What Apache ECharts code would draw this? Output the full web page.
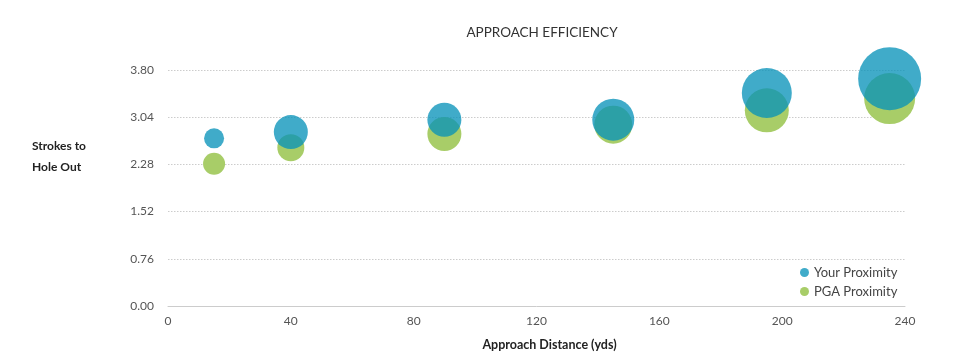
<!DOCTYPE html>
<html>
<head>
<meta charset="utf-8">
<script src="https://cdn.jsdelivr.net/npm/echarts@6/dist/echarts.min.js"></script>
<style>html,body{margin:0;padding:0;background:#fff}#c{width:964px;height:361px}</style>
</head>
<body>
<div id="c"></div>
<script>
// Data
var distances = [15, 40, 90, 145, 195, 235];
var yourStrokes = [2.70, 2.80, 3.00, 3.00, 3.43, 3.66];
var pgaStrokes = [2.29, 2.55, 2.77, 2.92, 3.15, 3.34];
// Bubble size value (proximity)
var yourProximity = [20, 34, 34, 42, 50, 63];
var pgaProximity = [22, 27, 34, 38, 44, 51];
var yTicks = [0, 0.76, 1.52, 2.28, 3.04, 3.80];

function pts(xs, ys, ss) {
  return xs.map(function (x, i) { return [x, ys[i], ss[i]]; });
}
var font = 'Lato, "Noto Sans", sans-serif';
var chart = echarts.init(document.getElementById('c'));
chart.setOption({
  animation: false,
  textStyle: { fontFamily: font },
  title: {
    text: 'APPROACH EFFICIENCY',
    left: 537, top: 21, textAlign: 'center',
    textStyle: { fontSize: 13.5, fontWeight: 'normal', color: '#333', fontFamily: font }
  },
  grid: { left: 168, right: 59, top: 70, bottom: 55 },
  legend: {
    data: ['Your Proximity', 'PGA Proximity'],
    orient: 'vertical', left: 795, top: 261,
    icon: 'circle', itemWidth: 9, itemHeight: 9, itemGap: 6,
    textStyle: { fontSize: 13, color: '#444', fontFamily: font }
  },
  graphic: [{
    type: 'text', left: 32, top: 136,
    style: { text: 'Strokes to\nHole Out', font: 'bold 12px ' + font, fill: '#222', lineHeight: 21 }
  }],
  xAxis: {
    type: 'value', min: 0, max: 240, interval: 40,
    name: 'Approach Distance (yds)', nameLocation: 'middle', nameGap: 32,
    nameTextStyle: { fontSize: 12.5, fontWeight: 'bold', color: '#222', padding: [0, 0, 0, 26] },
    axisLine: { lineStyle: { color: '#ccc' } },
    axisTick: { show: false },
    splitLine: { show: false },
    axisLabel: { color: '#555', fontSize: 12, margin: 9 }
  },
  yAxis: {
    type: 'value', min: 0, max: 3.8, interval: 0.76,
    axisLine: { show: false }, axisTick: { show: false },
    splitLine: { lineStyle: { color: '#ccc', type: [1.5, 1.5] } },
    axisLabel: {
      color: '#555', fontSize: 12, margin: 14,
      formatter: function (v) {
        var t = yTicks.reduce(function (a, b) { return Math.abs(b - v) < Math.abs(a - v) ? b : a; });
        return t.toFixed(2);
      }
    }
  },
  series: [{
    name: 'PGA Proximity', type: 'scatter',
    data: pts(distances, pgaStrokes, pgaProximity),
    symbolSize: function (d) { return d[2]; },
    itemStyle: { color: '#a8cd68', opacity: 1 },
    z: 2
  }, {
    name: 'Your Proximity', type: 'scatter',
    data: pts(distances, yourStrokes, yourProximity),
    symbolSize: function (d) { return d[2]; },
    itemStyle: { color: 'rgb(7,146,185)', opacity: 0.77 },
    z: 3
  }]
});
</script>
</body>
</html>
